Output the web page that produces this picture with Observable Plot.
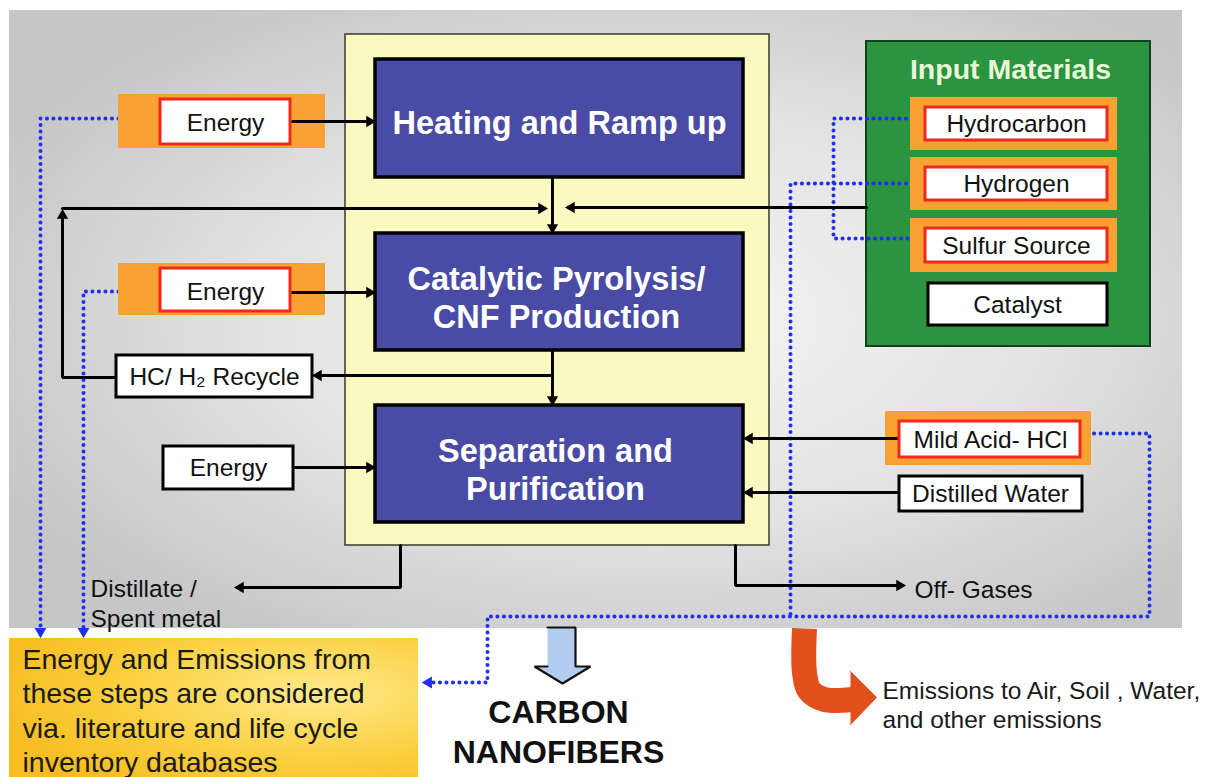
<!DOCTYPE html>
<html>
<head>
<meta charset="utf-8">
<script src="https://cdn.jsdelivr.net/npm/d3@7"></script>
<script src="https://cdn.jsdelivr.net/npm/@observablehq/plot@0.6"></script>
<style>
  html, body { margin: 0; padding: 0; background: #ffffff; }
  #chart svg { display: block; }
</style>
</head>
<body>
<div id="chart"></div>
<script>
// ---------- Text content ----------
const processSteps = ["Heating and Ramp up", "Catalytic Pyrolysis/\nCNF Production", "Separation and\nPurification"];
const energyLabels = ["Energy", "Energy", "Energy"];
const inputTitle = "Input Materials";
const inputMaterials = ["Hydrocarbon", "Hydrogen", "Sulfur Source", "Catalyst"];
const separationInputs = ["Mild Acid- HCl", "Distilled Water"];
const recycleLabel = "HC/ H\u2082 Recycle";
const outputLabels = ["Distillate /\nSpent metal", "Off- Gases"];
const productLabel = "CARBON\nNANOFIBERS";
const noteText = "Energy and Emissions from\nthese steps are considered\nvia. literature and life cycle\ninventory databases";
const emissionsText = "Emissions to Air, Soil , Water,\nand other emissions";

// ---------- Layout (diagram coordinates) ----------
const panel = [{x1: 9, y1: 10, x2: 1182, y2: 628}];
const container = [{x1: 345, y1: 34, x2: 769, y2: 545}];
const processBoxes = [
  {x1: 375, y1: 59, x2: 743, y2: 177, cx: 559, cy: 121},
  {x1: 375, y1: 233, x2: 743, y2: 350, cx: 556, cy: 296},
  {x1: 375, y1: 405, x2: 743, y2: 522, cx: 555, cy: 468}
];
const greenBox = [{x1: 866, y1: 41, x2: 1150, y2: 346}];
const orangePads = [
  {x1: 118, y1: 94, x2: 325, y2: 148},
  {x1: 118, y1: 263, x2: 325, y2: 315},
  {x1: 910, y1: 97, x2: 1117, y2: 150},
  {x1: 910, y1: 157, x2: 1117, y2: 210},
  {x1: 910, y1: 218, x2: 1117, y2: 272},
  {x1: 885, y1: 411, x2: 1091, y2: 465}
];
const redBoxes = [
  {x1: 160, y1: 99, x2: 290, y2: 144, cx: 225, cy: 123, label: energyLabels[0]},
  {x1: 160, y1: 268, x2: 290, y2: 311, cx: 225, cy: 292, label: energyLabels[1]},
  {x1: 925, y1: 107, x2: 1107, y2: 140, cx: 1016, cy: 124, label: inputMaterials[0]},
  {x1: 925, y1: 167, x2: 1107, y2: 200, cx: 1016, cy: 184, label: inputMaterials[1]},
  {x1: 925, y1: 228, x2: 1107, y2: 262, cx: 1016, cy: 246, label: inputMaterials[2]},
  {x1: 899, y1: 421, x2: 1080, y2: 457, cx: 990, cy: 440, label: separationInputs[0]}
];
const blackBoxes = [
  {x1: 163, y1: 446, x2: 293, y2: 489, cx: 228, cy: 468, label: energyLabels[2]},
  {x1: 116, y1: 355, x2: 312, y2: 397, cx: 214, cy: 377, label: recycleLabel},
  {x1: 928, y1: 283, x2: 1107, y2: 325, cx: 1017, cy: 305, label: inputMaterials[3]},
  {x1: 899, y1: 476, x2: 1082, y2: 511, cx: 990, cy: 494, label: separationInputs[1]}
];
const noteBox = [{x1: 9, y1: 638, x2: 418, y2: 777}];

// Black connectors (polylines)
const connectors = [
  {id: "e1", pts: [[292, 121], [372, 121]]},
  {id: "e2", pts: [[292, 292], [372, 292]]},
  {id: "e3", pts: [[295, 467], [372, 467]]},
  {id: "hc", pts: [[552, 177], [552, 228]]},
  {id: "rc1", pts: [[116, 377], [62, 377], [62, 214]]},
  {id: "rc2", pts: [[62, 208], [542, 208]]},
  {id: "in", pts: [[866, 207], [570, 207]]},
  {id: "cs", pts: [[552, 350], [552, 400]]},
  {id: "cr", pts: [[552, 375], [318, 375]]},
  {id: "acid", pts: [[899, 438], [748, 438]]},
  {id: "water", pts: [[899, 492], [748, 492]]},
  {id: "dist", pts: [[400, 545], [400, 587], [240, 587]]},
  {id: "off", pts: [[735, 545], [735, 585], [900, 585]]}
];
const blackHeads = [
  {x: 369, y: 121, r: 90}, {x: 369, y: 292, r: 90}, {x: 369, y: 467, r: 90},
  {x: 552, y: 227, r: 180}, {x: 62, y: 215, r: 0}, {x: 541, y: 208, r: 90},
  {x: 571, y: 207, r: 270}, {x: 552, y: 399, r: 180}, {x: 318, y: 375, r: 270},
  {x: 749, y: 438, r: 270}, {x: 749, y: 492, r: 270}, {x: 240, y: 587, r: 270},
  {x: 899, y: 585, r: 90}
];

// Blue dotted paths
const dotted = [
  {id: "d1", pts: [[118, 118], [40, 118], [40, 628]]},
  {id: "d2", pts: [[118, 291], [83, 291], [83, 628]]},
  {id: "d3", pts: [[925, 118], [833, 118], [833, 238], [925, 238]]},
  {id: "d4", pts: [[925, 183], [790, 183], [790, 616]]},
  {id: "d5", pts: [[1087, 433], [1149, 433], [1149, 616], [487, 616], [487, 682], [432, 682]]}
];
const blueHeads = [
  {x: 40, y: 631, r: 180}, {x: 83, y: 631, r: 180}, {x: 428, y: 682, r: 270}
];

// Product block arrow and emissions arrow
const productArrow = [[547, 627], [575, 627], [575, 666], [590, 666], [562, 683], [534, 666], [547, 666]];
const emissionShaft = [[804, 628], [804, 672], [809, 690], [824, 699], [852, 699]];
const emissionHead = [[850, 671], [876, 697], [850, 724]];

const textLines = [
  {x: 90, y: 602, label: outputLabels[0]},
  {x: 914, y: 588, label: outputLabels[1]}
];

// ---------- Helpers ----------
const toRows = (list) => list.flatMap(d => d.pts.map(([x, y]) => ({id: d.id, x, y})));
const FONT = "Liberation Sans, Arial, Helvetica, sans-serif";
const BLUE_DOT = "#1f30f2";

const svg = Plot.plot({
  width: 1218,
  height: 777,
  margin: 0,
  x: {domain: [0, 1218], range: [0, 1218], axis: null},
  y: {domain: [0, 777], range: [0, 777], axis: null},
  style: {background: "#ffffff"},
  marks: [
    Plot.rect(panel, {x1: "x1", y1: "y1", x2: "x2", y2: "y2", fill: "url(#bgGrad)"}),
    Plot.rect(container, {x1: "x1", y1: "y1", x2: "x2", y2: "y2", fill: "#fbf9c2", stroke: "#3a3a2a", strokeWidth: 1.5}),
    Plot.rect(greenBox, {x1: "x1", y1: "y1", x2: "x2", y2: "y2", fill: "#2a9440", stroke: "#11401c", strokeWidth: 2}),
    Plot.line(toRows(dotted), {x: "x", y: "y", z: "id", stroke: BLUE_DOT, strokeWidth: 4, strokeDasharray: "0.1 6.4", strokeLinecap: "round", curve: "linear"}),
    Plot.rect(orangePads, {x1: "x1", y1: "y1", x2: "x2", y2: "y2", fill: "#f8a233"}),
    Plot.line(toRows(connectors), {x: "x", y: "y", z: "id", stroke: "#000", strokeWidth: 3, curve: "linear", strokeLinejoin: "miter"}),
    Plot.dot(blackHeads, {x: "x", y: "y", rotate: "r", symbol: "triangle", r: 4.2, fill: "#000"}),
    Plot.dot(blueHeads, {x: "x", y: "y", rotate: "r", symbol: "triangle", r: 4.4, fill: BLUE_DOT}),
    Plot.rect(processBoxes, {x1: "x1", y1: "y1", x2: "x2", y2: "y2", fill: "#4a4ba4", stroke: "#000", strokeWidth: 3.5}),
    Plot.text(processBoxes, {x: "cx", y: "cy", text: (d, i) => processSteps[i], fill: "#ffffff", fontSize: 32.5, fontWeight: "bold", fontFamily: FONT, lineHeight: 1.18}),
    Plot.rect(redBoxes, {x1: "x1", y1: "y1", x2: "x2", y2: "y2", fill: "#ffffff", stroke: "#f3281a", strokeWidth: 3}),
    Plot.text(redBoxes, {x: "cx", y: "cy", text: "label", fill: "#111", fontSize: 24.5, fontFamily: FONT}),
    Plot.rect(blackBoxes, {x1: "x1", y1: "y1", x2: "x2", y2: "y2", fill: "#ffffff", stroke: "#000", strokeWidth: 3}),
    Plot.text(blackBoxes, {x: "cx", y: "cy", text: "label", fill: "#111", fontSize: 24.5, fontFamily: FONT}),
    Plot.text([inputTitle], {x: () => 1010, y: () => 69, text: d => d, fill: "#e8f6d8", fontSize: 28.5, fontWeight: "bold", fontFamily: FONT}),
    Plot.text(textLines, {x: "x", y: "y", text: "label", textAnchor: "start", fill: "#111", fontSize: 24.5, fontFamily: FONT, lineHeight: 1.22}),
    Plot.rect(noteBox, {x1: "x1", y1: "y1", x2: "x2", y2: "y2", fill: "url(#noteGrad)"}),
    Plot.text([noteText], {x: () => 22, y: () => 709, text: d => d, textAnchor: "start", fill: "#1a1a1a", fontSize: 28.5, fontFamily: FONT, lineHeight: 1.2}),
    Plot.line(productArrow.map(([x, y]) => ({x, y})), {x: "x", y: "y", fill: "#b3cdf1", stroke: "#111", strokeWidth: 2.2, strokeLinejoin: "miter"}),
    Plot.text([productLabel], {x: () => 558, y: () => 730, text: d => d, fill: "#111", fontSize: 32, fontWeight: "bold", fontFamily: FONT, lineHeight: 1.25}),
    Plot.line(emissionShaft.map(([x, y]) => ({x, y})), {x: "x", y: "y", stroke: "#e2501e", strokeWidth: 25, curve: "catmull-rom", strokeLinecap: "butt"}),
    Plot.line(emissionHead.map(([x, y]) => ({x, y})), {x: "x", y: "y", fill: "#e2501e", stroke: "#e2501e", strokeWidth: 1}),
    Plot.text([emissionsText], {x: () => 882, y: () => 704, text: d => d, textAnchor: "start", fill: "#1a1a1a", fontSize: 24.5, fontFamily: FONT, lineHeight: 1.15})
  ]
});

const ns = "http://www.w3.org/2000/svg";
const defs = document.createElementNS(ns, "defs");
defs.innerHTML = `
  <radialGradient id="bgGrad" cx="55%" cy="50%" r="62%">
    <stop offset="0" stop-color="#f6f6f6"/>
    <stop offset="0.55" stop-color="#e2e2e2"/>
    <stop offset="1" stop-color="#c6c6c6"/>
  </radialGradient>
  <radialGradient id="noteGrad" cx="75%" cy="40%" r="80%">
    <stop offset="0" stop-color="#feea8c"/>
    <stop offset="0.6" stop-color="#fbcf3e"/>
    <stop offset="1" stop-color="#f7bd22"/>
  </radialGradient>`;
svg.insertBefore(defs, svg.firstChild);
document.getElementById("chart").appendChild(svg);
</script>
</body>
</html>
